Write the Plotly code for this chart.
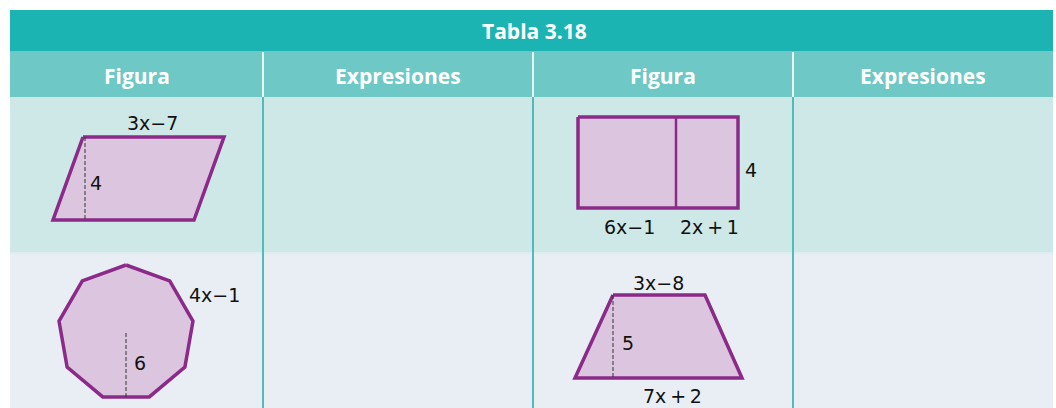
import plotly.graph_objects as go
import math

# ---------------- data ----------------
title = "Tabla 3.18"
headers = ["Figura", "Expresiones", "Figura", "Expresiones"]
col_edges = [10, 263, 533, 793, 1053]

# parallelogram (base 3x-7, height 4)
para_x = [83, 224, 194, 53, 83]
para_y = [137, 137, 220, 220, 137]
para_labels = ["3x\u22127", "4"]

# regular nonagon (side 4x-1, apothem 6)
nona_sides = 9
nona_center = (126, 333)
nona_radius = 68
nona_labels = ["4x\u22121", "6"]

# rectangle split in two (6x-1, 2x+1, height 4)
rect_x = [578, 738, 738, 578, 578]
rect_y = [117, 117, 208, 208, 117]
rect_split_x = 676
rect_labels = ["6x\u22121", "2x\u2009+\u20091", "4"]

# trapezoid (3x-8, 7x+2, height 5)
trap_x = [613, 705, 742, 575, 613]
trap_y = [295, 295, 378, 378, 295]
trap_labels = ["3x\u22128", "7x\u2009+\u20092", "5"]

# ---------------- figure ----------------
W, H = 1056, 408
fig = go.Figure()

shapes = []
# background bands
shapes.append(dict(type="rect", x0=10, x1=1053, y0=10, y1=51, fillcolor="#1cb4b3", line_width=0, layer="below"))
shapes.append(dict(type="rect", x0=10, x1=1053, y0=51, y1=97, fillcolor="#6ec8c6", line_width=0, layer="below"))
shapes.append(dict(type="rect", x0=10, x1=1053, y0=97, y1=253, fillcolor="#cde8e7", line_width=0, layer="below"))
shapes.append(dict(type="rect", x0=10, x1=1053, y0=253, y1=408, fillcolor="#e9eef5", line_width=0, layer="below"))
shapes.append(dict(type="line", x0=10, x1=1053, y0=253, y1=253, line=dict(color="#dceeee", width=2), layer="below"))
# column dividers
for xe in col_edges[1:-1]:
    shapes.append(dict(type="line", x0=xe, x1=xe, y0=52, y1=97, line=dict(color="#e6f6f5", width=2), layer="below"))
    shapes.append(dict(type="line", x0=xe, x1=xe, y0=97, y1=408, line=dict(color="#52bab8", width=2), layer="below"))
fig.update_layout(shapes=shapes)

stroke = "#8b2a89"
fill = "#dcc6df"
dash_col = "#333333"

def poly(xs, ys):
    fig.add_trace(go.Scatter(x=xs, y=ys, mode="lines", fill="toself", fillcolor=fill,
                             line=dict(color=stroke, width=3.5), hoverinfo="skip", showlegend=False))

def dline(xs, ys, color=dash_col, width=1, dash="4px,2px"):
    fig.add_trace(go.Scatter(x=xs, y=ys, mode="lines", line=dict(color=color, width=width, dash=dash),
                             hoverinfo="skip", showlegend=False))

# parallelogram
poly(para_x, para_y)
dline([para_x[0] + 2, para_x[0] + 2], [para_y[0], para_y[2]])

# nonagon
cx, cy = nona_center
nx, ny = [], []
for k in range(nona_sides + 1):
    a = math.radians(90 - 360 / nona_sides * k)
    nx.append(cx + nona_radius * math.cos(a))
    ny.append(cy - nona_radius * math.sin(a))
poly(nx, ny)
apo = nona_radius * math.cos(math.pi / nona_sides)
dline([cx, cx], [cy, cy + apo])

# rectangle
poly(rect_x, rect_y)
dline([rect_split_x, rect_split_x], [rect_y[0], rect_y[2]], color=stroke, width=2.5, dash="solid")

# trapezoid
poly(trap_x, trap_y)
dline([trap_x[0], trap_x[0]], [trap_y[0], trap_y[2]])

# text
ann = []
hfont = dict(family="Open Sans", size=21, color="white")
ann.append(dict(x=534, y=31, text="<b>" + title + "</b>", showarrow=False, font=hfont))
for i, h in enumerate(headers):
    xc = (col_edges[i] + col_edges[i + 1]) / 2
    ann.append(dict(x=xc, y=76, text="<b>" + h + "</b>", showarrow=False, font=hfont))

lfont = dict(family="DejaVu Sans", size=19, color="#111111")
def lab(x, y, t, xanchor="center"):
    ann.append(dict(x=x, y=y, text=t, showarrow=False, font=lfont, xanchor=xanchor, yanchor="middle"))

lab(152, 123, para_labels[0])
lab(88, 183, para_labels[1], "left")
lab(187, 295, nona_labels[0], "left")
lab(132, 363, nona_labels[1], "left")
lab(629, 227, rect_labels[0])
lab(709, 227, rect_labels[1])
lab(743, 170, rect_labels[2], "left")
lab(658, 283, trap_labels[0])
lab(672, 396, trap_labels[1])
lab(620, 343, trap_labels[2], "left")
fig.update_layout(annotations=ann)

fig.update_layout(
    width=W, height=H, margin=dict(l=0, r=0, t=0, b=0),
    paper_bgcolor="white", plot_bgcolor="white",
    xaxis=dict(range=[0, W], visible=False, fixedrange=True),
    yaxis=dict(range=[H, 0], visible=False, fixedrange=True),
    showlegend=False,
)
fig.write_html("out.html", config={"displayModeBar": False},
               post_script="document.body.style.margin='0';document.body.style.overflow='hidden';")
